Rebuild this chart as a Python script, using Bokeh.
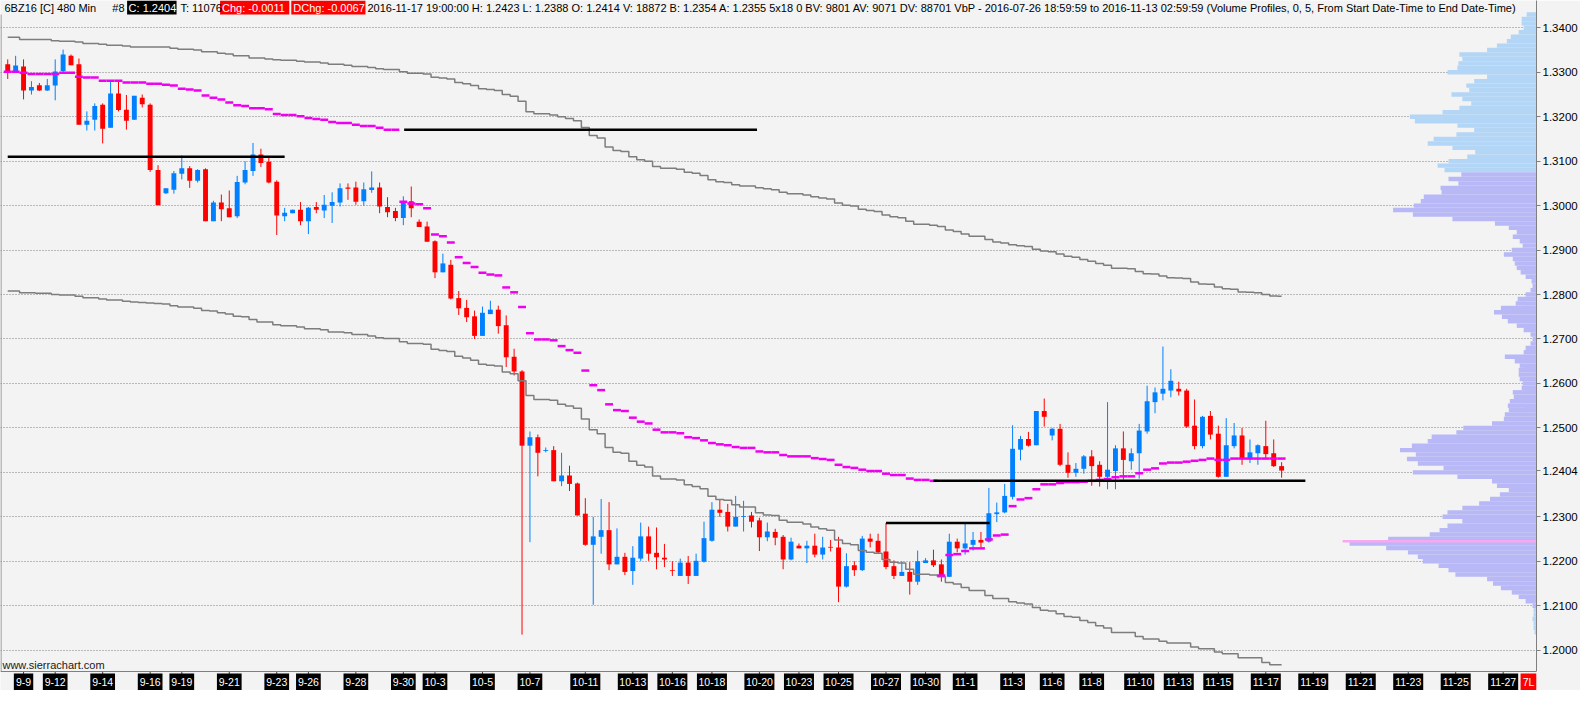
from bokeh.plotting import figure
from bokeh.models import Range1d, FixedTicker, NumeralTickFormatter, ColumnDataSource, Span
from bokeh.core.properties import value
from bokeh.embed import file_html
from bokeh.resources import INLINE

# ---------------- data ----------------
opens = [1.3318, 1.3301, 1.3313, 1.3259, 1.3271, 1.3259, 1.3270, 1.3303, 1.3337, 1.3318,
         1.3182, 1.3193, 1.3227, 1.3175, 1.3252, 1.3216, 1.3193, 1.3243, 1.3227, 1.3080,
         1.3028, 1.3036, 1.3072, 1.3084, 1.3056, 1.3082, 1.2965, 1.3007, 1.2994, 1.2976,
         1.3052, 1.3078, 1.3115, 1.3099, 1.3054, 1.2976, 1.2983, 1.2991, 1.2965, 1.2997,
         1.2989, 1.3000, 1.3007, 1.3041, 1.3041, 1.3010, 1.3035, 1.3041, 1.2997, 1.2988,
         1.2972, 1.3010, 1.2964, 1.2953, 1.2920, 1.2850, 1.2867, 1.2792, 1.2770, 1.2751,
         1.2707, 1.2756, 1.2766, 1.2731, 1.2660, 1.2627, 1.2460, 1.2479, 1.2448, 1.2450,
         1.2380, 1.2393, 1.2375, 1.2307, 1.2237, 1.2255, 1.2270, 1.2193, 1.2210, 1.2178,
         1.2206, 1.2256, 1.2219, 1.2208, 1.2180, 1.2167, 1.2197, 1.2167, 1.2199, 1.2246,
         1.2316, 1.2311, 1.2278, 1.2300, 1.2303, 1.2292, 1.2254, 1.2266, 1.2255, 1.2204,
         1.2235, 1.2229, 1.2235, 1.2215, 1.2232, 1.2231, 1.2143, 1.2191, 1.2180, 1.2251,
         1.2246, 1.2222, 1.2189, 1.2167, 1.2176, 1.2154, 1.2196, 1.2202, 1.2193, 1.2165,
         1.2244, 1.2229, 1.2237, 1.2248, 1.2244, 1.2306, 1.2310, 1.2345, 1.2451, 1.2475,
         1.2461, 1.2538, 1.2483, 1.2498, 1.2417, 1.2399, 1.2408, 1.2436, 1.2417, 1.2390,
         1.2403, 1.2454, 1.2425, 1.2443, 1.2492, 1.2558, 1.2577, 1.2584, 1.2588, 1.2584,
         1.2505, 1.2459, 1.2527, 1.2487, 1.2390, 1.2459, 1.2483, 1.2430, 1.2443, 1.2459,
         1.2443, 1.2414]
highs = [1.3329, 1.3337, 1.3329, 1.3280, 1.3276, 1.3285, 1.3329, 1.3351, 1.3340, 1.3331,
         1.3212, 1.3230, 1.3230, 1.3279, 1.3279, 1.3249, 1.3247, 1.3250, 1.3230, 1.3091,
         1.3039, 1.3078, 1.3113, 1.3089, 1.3082, 1.3084, 1.3011, 1.3025, 1.3034, 1.3067,
         1.3100, 1.3141, 1.3128, 1.3108, 1.3057, 1.2995, 1.2991, 1.3008, 1.2997, 1.3008,
         1.3024, 1.3030, 1.3050, 1.3050, 1.3054, 1.3052, 1.3077, 1.3052, 1.3019, 1.2995,
         1.3021, 1.3043, 1.2969, 1.2964, 1.2922, 1.2892, 1.2878, 1.2808, 1.2788, 1.2764,
         1.2773, 1.2786, 1.2775, 1.2753, 1.2678, 1.2630, 1.2492, 1.2485, 1.2456, 1.2459,
         1.2444, 1.2415, 1.2377, 1.2342, 1.2300, 1.2340, 1.2333, 1.2274, 1.2219, 1.2234,
         1.2287, 1.2278, 1.2276, 1.2239, 1.2200, 1.2206, 1.2212, 1.2217, 1.2289, 1.2333,
         1.2340, 1.2329, 1.2347, 1.2336, 1.2311, 1.2298, 1.2287, 1.2273, 1.2259, 1.2253,
         1.2240, 1.2246, 1.2262, 1.2255, 1.2248, 1.2255, 1.2218, 1.2200, 1.2257, 1.2262,
         1.2262, 1.2286, 1.2202, 1.2200, 1.2198, 1.2224, 1.2207, 1.2226, 1.2204, 1.2262,
         1.2251, 1.2288, 1.2266, 1.2266, 1.2365, 1.2332, 1.2374, 1.2506, 1.2482, 1.2491,
         1.2538, 1.2566, 1.2500, 1.2509, 1.2445, 1.2421, 1.2439, 1.2450, 1.2425, 1.2558,
         1.2461, 1.2492, 1.2454, 1.2509, 1.2595, 1.2591, 1.2683, 1.2632, 1.2604, 1.2588,
         1.2564, 1.2527, 1.2538, 1.2505, 1.2522, 1.2511, 1.2500, 1.2474, 1.2463, 1.2516,
         1.2474, 1.2423]
lows = [1.3285, 1.3300, 1.3239, 1.3250, 1.3258, 1.3258, 1.3237, 1.3299, 1.3316, 1.3182,
        1.3169, 1.3169, 1.3140, 1.3175, 1.3212, 1.3171, 1.3193, 1.3221, 1.3076, 1.3001,
        1.3026, 1.3027, 1.3059, 1.3040, 1.3052, 1.2965, 1.2965, 1.2965, 1.2974, 1.2972,
        1.3048, 1.3067, 1.3087, 1.3050, 1.2934, 1.2965, 1.2983, 1.2956, 1.2936, 1.2983,
        1.2972, 1.2961, 1.2998, 1.3013, 1.3002, 1.3000, 1.3029, 1.2983, 1.2974, 1.2965,
        1.2956, 1.2974, 1.2952, 1.2919, 1.2837, 1.2850, 1.2789, 1.2754, 1.2738, 1.2700,
        1.2707, 1.2756, 1.2712, 1.2637, 1.2618, 1.2035, 1.2243, 1.2391, 1.2445, 1.2380,
        1.2369, 1.2358, 1.2303, 1.2235, 1.2102, 1.2217, 1.2180, 1.2193, 1.2169, 1.2147,
        1.2201, 1.2201, 1.2182, 1.2187, 1.2167, 1.2167, 1.2149, 1.2167, 1.2197, 1.2244,
        1.2300, 1.2267, 1.2278, 1.2267, 1.2276, 1.2223, 1.2245, 1.2236, 1.2182, 1.2202,
        1.2229, 1.2196, 1.2209, 1.2204, 1.2222, 1.2108, 1.2141, 1.2167, 1.2178, 1.2231,
        1.2218, 1.2182, 1.2160, 1.2167, 1.2125, 1.2147, 1.2196, 1.2187, 1.2154, 1.2165,
        1.2220, 1.2215, 1.2224, 1.2231, 1.2242, 1.2288, 1.2308, 1.2339, 1.2427, 1.2458,
        1.2461, 1.2503, 1.2472, 1.2414, 1.2388, 1.2390, 1.2397, 1.2370, 1.2368, 1.2362,
        1.2362, 1.2384, 1.2406, 1.2386, 1.2487, 1.2533, 1.2562, 1.2569, 1.2573, 1.2500,
        1.2452, 1.2454, 1.2474, 1.2388, 1.2390, 1.2454, 1.2417, 1.2421, 1.2417, 1.2432,
        1.2412, 1.2388]
closes = [1.3301, 1.3315, 1.3259, 1.3267, 1.3259, 1.3271, 1.3302, 1.3340, 1.3316, 1.3182,
          1.3191, 1.3224, 1.3173, 1.3252, 1.3215, 1.3191, 1.3247, 1.3228, 1.3080, 1.3001,
          1.3039, 1.3073, 1.3084, 1.3056, 1.3080, 1.2965, 1.3007, 1.2992, 1.2974, 1.3053,
          1.3080, 1.3115, 1.3096, 1.3052, 1.2978, 1.2984, 1.2991, 1.2965, 1.2995, 1.2991,
          1.3002, 1.3008, 1.3039, 1.3038, 1.3009, 1.3037, 1.3041, 1.2998, 1.2985, 1.2972,
          1.3010, 1.2994, 1.2952, 1.2919, 1.2850, 1.2870, 1.2791, 1.2769, 1.2749, 1.2707,
          1.2759, 1.2766, 1.2729, 1.2659, 1.2627, 1.2460, 1.2479, 1.2444, 1.2450, 1.2380,
          1.2393, 1.2374, 1.2303, 1.2237, 1.2256, 1.2270, 1.2193, 1.2210, 1.2176, 1.2208,
          1.2256, 1.2217, 1.2209, 1.2204, 1.2179, 1.2197, 1.2167, 1.2201, 1.2252, 1.2316,
          1.2309, 1.2278, 1.2300, 1.2301, 1.2289, 1.2254, 1.2267, 1.2253, 1.2204, 1.2244,
          1.2229, 1.2235, 1.2215, 1.2231, 1.2231, 1.2143, 1.2189, 1.2180, 1.2251, 1.2244,
          1.2220, 1.2187, 1.2167, 1.2176, 1.2154, 1.2200, 1.2202, 1.2191, 1.2167, 1.2244,
          1.2229, 1.2240, 1.2248, 1.2242, 1.2308, 1.2310, 1.2347, 1.2453, 1.2475, 1.2460,
          1.2538, 1.2525, 1.2498, 1.2417, 1.2399, 1.2408, 1.2436, 1.2414, 1.2390, 1.2406,
          1.2454, 1.2428, 1.2443, 1.2494, 1.2560, 1.2580, 1.2588, 1.2606, 1.2582, 1.2503,
          1.2459, 1.2525, 1.2485, 1.2390, 1.2461, 1.2483, 1.2430, 1.2445, 1.2461, 1.2441,
          1.2414, 1.2404]

vwap = [1.3301, 1.3301, 1.3299, 1.3296, 1.3296, 1.3296, 1.3296, 1.3299, 1.3299, 1.3290,
        1.3288, 1.3288, 1.3281, 1.3281, 1.3281, 1.3277, 1.3277, 1.3277, 1.3274, 1.3274,
        1.3272, 1.3270, 1.3263, 1.3261, 1.3259, 1.3248, 1.3243, 1.3239, 1.3232, 1.3226,
        1.3224, 1.3219, 1.3219, 1.3217, 1.3206, 1.3204, 1.3204, 1.3201, 1.3197, 1.3195,
        1.3193, 1.3188, 1.3186, 1.3186, 1.3182, 1.3179, 1.3179, 1.3175, 1.3171, 1.3171,
        1.3009, 1.3005, 1.3003, 1.2994, 1.2935, 1.2931, 1.2917, 1.2884, 1.2871, 1.2862,
        1.2849, 1.2845, 1.2843, 1.2816, 1.2805, 1.2772, 1.2713, 1.2699, 1.2699, 1.2697,
        1.2684, 1.2675, 1.2669, 1.2629, 1.2596, 1.2585, 1.2553, 1.2540, 1.2538, 1.2523,
        1.2514, 1.2510, 1.2496, 1.2490, 1.2490, 1.2488, 1.2479, 1.2477, 1.2472, 1.2466,
        1.2463, 1.2461, 1.2457, 1.2455, 1.2455, 1.2447, 1.2445, 1.2445, 1.2439, 1.2436,
        1.2436, 1.2436, 1.2432, 1.2430, 1.2428, 1.2417, 1.2412, 1.2410, 1.2406, 1.2403,
        1.2403, 1.2397, 1.2394, 1.2394, 1.2386, 1.2383, 1.2383, 1.2381, 1.2168, 1.2214,
        1.2216, 1.2223, 1.2229, 1.2229, 1.2249, 1.2258, 1.2260, 1.2324, 1.2339, 1.2342,
        1.2362, 1.2373, 1.2373, 1.2376, 1.2378, 1.2378, 1.2379, 1.2381, 1.2383, 1.2385,
        1.2389, 1.2391, 1.2391, 1.2398, 1.2406, 1.2409, 1.2420, 1.2422, 1.2422, 1.2424,
        1.2426, 1.2428, 1.2431, 1.2428, 1.2428, 1.2431, 1.2431, 1.2431, 1.2431, 1.2431,
        1.2431, 1.2431]

band_upper = [1.3379, 1.3379, 1.3374, 1.3374, 1.3374, 1.3374, 1.3371, 1.3370, 1.3370, 1.3368,
              1.3365, 1.3365, 1.3363, 1.3361, 1.3361, 1.3359, 1.3357, 1.3357, 1.3357, 1.3357,
              1.3357, 1.3354, 1.3352, 1.3352, 1.3350, 1.3346, 1.3346, 1.3343, 1.3341, 1.3337,
              1.3337, 1.3332, 1.3332, 1.3330, 1.3328, 1.3327, 1.3327, 1.3325, 1.3323, 1.3323,
              1.3321, 1.3318, 1.3318, 1.3316, 1.3313, 1.3313, 1.3311, 1.3308, 1.3306, 1.3306,
              1.3301, 1.3298, 1.3298, 1.3296, 1.3289, 1.3287, 1.3285, 1.3277, 1.3274, 1.3270,
              1.3263, 1.3261, 1.3259, 1.3250, 1.3246, 1.3235, 1.3211, 1.3207, 1.3207, 1.3204,
              1.3200, 1.3196, 1.3191, 1.3176, 1.3158, 1.3152, 1.3132, 1.3124, 1.3122, 1.3110,
              1.3103, 1.3100, 1.3088, 1.3084, 1.3084, 1.3082, 1.3075, 1.3073, 1.3068, 1.3058,
              1.3054, 1.3052, 1.3047, 1.3044, 1.3044, 1.3040, 1.3038, 1.3036, 1.3030, 1.3027,
              1.3027, 1.3024, 1.3020, 1.3017, 1.3015, 1.3006, 1.3001, 1.2999, 1.2992, 1.2989,
              1.2987, 1.2979, 1.2975, 1.2973, 1.2965, 1.2958, 1.2958, 1.2956, 1.2953, 1.2945,
              1.2942, 1.2936, 1.2931, 1.2931, 1.2924, 1.2918, 1.2916, 1.2912, 1.2910, 1.2908,
              1.2902, 1.2898, 1.2896, 1.2891, 1.2886, 1.2884, 1.2879, 1.2875, 1.2870, 1.2866,
              1.2859, 1.2859, 1.2858, 1.2852, 1.2847, 1.2846, 1.2842, 1.2838, 1.2837, 1.2836,
              1.2828, 1.2824, 1.2823, 1.2817, 1.2813, 1.2812, 1.2806, 1.2805, 1.2804, 1.2800,
              1.2797, 1.2796]
band_lower = [1.2808, 1.2808, 1.2804, 1.2804, 1.2803, 1.2803, 1.2800, 1.2799, 1.2799, 1.2796,
              1.2793, 1.2793, 1.2790, 1.2788, 1.2788, 1.2785, 1.2783, 1.2782, 1.2781, 1.2780,
              1.2779, 1.2775, 1.2772, 1.2772, 1.2769, 1.2764, 1.2763, 1.2759, 1.2756, 1.2751,
              1.2750, 1.2744, 1.2738, 1.2738, 1.2732, 1.2730, 1.2730, 1.2727, 1.2723, 1.2723,
              1.2721, 1.2716, 1.2716, 1.2714, 1.2710, 1.2710, 1.2707, 1.2703, 1.2701, 1.2701,
              1.2694, 1.2690, 1.2690, 1.2688, 1.2677, 1.2674, 1.2672, 1.2661, 1.2657, 1.2652,
              1.2643, 1.2641, 1.2639, 1.2626, 1.2622, 1.2606, 1.2573, 1.2564, 1.2564, 1.2562,
              1.2553, 1.2549, 1.2544, 1.2520, 1.2496, 1.2487, 1.2456, 1.2445, 1.2443, 1.2425,
              1.2416, 1.2412, 1.2392, 1.2385, 1.2385, 1.2383, 1.2372, 1.2368, 1.2363, 1.2346,
              1.2339, 1.2337, 1.2327, 1.2322, 1.2322, 1.2309, 1.2304, 1.2303, 1.2292, 1.2288,
              1.2288, 1.2284, 1.2277, 1.2273, 1.2270, 1.2248, 1.2240, 1.2237, 1.2224, 1.2220,
              1.2218, 1.2204, 1.2198, 1.2196, 1.2182, 1.2171, 1.2171, 1.2169, 1.2165, 1.2152,
              1.2149, 1.2141, 1.2134, 1.2134, 1.2123, 1.2116, 1.2116, 1.2109, 1.2106, 1.2104,
              1.2096, 1.2090, 1.2088, 1.2082, 1.2076, 1.2074, 1.2067, 1.2062, 1.2055, 1.2050,
              1.2040, 1.2040, 1.2040, 1.2031, 1.2025, 1.2025, 1.2020, 1.2016, 1.2016, 1.2016,
              1.2007, 1.2003, 1.2003, 1.1996, 1.1992, 1.1992, 1.1983, 1.1983, 1.1983, 1.1972,
              1.1967, 1.1967]

# horizontal level lines (price, first bar, last bar)
level_price = [1.3110, 1.3171, 1.2286, 1.2381]
level_from = [0.0, 50.1, 111.0, 117.0]
level_to = [35.0, 94.7, 124.1, 164.0]

# volume profile: rows from vp_top downwards, step vp_step; widths in px of the reference
vp_top = 1.343
vp_step = 0.001
vp_vol = [10, 15, 15, 13, 18, 26, 30, 40, 50, 78, 75, 79, 80, 90, 50, 63, 71, 68, 86, 75,
          66, 78, 95, 128, 123, 80, 63, 81, 104, 110, 85, 62, 70, 89, 100, 93,
          76, 89, 79, 97, 96, 114, 117, 124, 145, 125, 85, 42, 28, 20, 24, 17, 14, 25, 33, 24,
          22, 20, 16, 11, 5, 4, 6, 11, 19, 21, 36, 43, 35, 29,
          20, 13, 6, 4, 6, 11, 13, 32, 22, 17, 18, 18, 17, 14, 15, 24, 23, 27, 29, 28,
          32, 33, 45, 74, 81, 106, 110, 126, 138, 122, 131, 120, 94, 125, 80, 45, 40, 28, 37, 47,
          58, 75, 90, 95, 75, 90, 98, 108, 150, 189, 152, 130, 120, 115, 99, 89, 82, 50, 44, 36,
          25, 18, 11, 4,
          3, 3, 4, 3, 3, 2]
va_high = 1.3078
va_low = 1.2100
poc_price = 1.2245
poc_vol = 196

date_labels = ["9-9", "9-12", "9-14", "9-16", "9-19", "9-21", "9-23", "9-26", "9-28", "9-30",
               "10-3", "10-5", "10-7", "10-11", "10-13", "10-16", "10-18", "10-20", "10-23", "10-25",
               "10-27", "10-30", "11-1", "11-3", "11-6", "11-8", "11-10", "11-13", "11-15", "11-17",
               "11-19", "11-21", "11-23", "11-25", "11-27"]
date_bars = [2, 6, 12, 18, 22, 28, 34, 38, 44, 50, 54, 60, 66, 73, 79, 84, 89, 95, 100, 105,
             111, 116, 121, 127, 132, 137, 143, 148, 153, 159, 165, 171, 177, 183, 189]

grid_prices = [1.20, 1.21, 1.22, 1.23, 1.24, 1.25, 1.26, 1.27, 1.28, 1.29,
               1.30, 1.31, 1.32, 1.33, 1.34]
last_price = 1.2404
axis_prices = [1.20, 1.21, 1.22, 1.23, last_price, 1.25, 1.26, 1.27, 1.28, 1.29,
               1.30, 1.31, 1.32, 1.33, 1.34]

# ---------------- layout ----------------
W, H = 1580, 690
HDR, XLB = 14, 19
P_TOP, P_BOT = 1.3430, 1.1952
ppu = (H - HDR - XLB) / (P_TOP - P_BOT)
Y0 = P_BOT - XLB / ppu
Y1 = P_TOP + HDR / ppu
REF_W = 1553.0
BAR0, BARW = 7.3, 8.0
BG = "#f3f3f3"
FONT = "Liberation Sans"

p = figure(width=W, height=H, x_range=Range1d(-BAR0 / BARW, (REF_W - BAR0) / BARW),
           y_range=Range1d(Y0, Y1), output_backend="svg", toolbar_location=None,
           y_axis_location="right", x_axis_location=None, min_border=0,
           background_fill_color=BG, border_fill_color=BG, outline_line_color=None)
p.extra_x_ranges = {"px": Range1d(0, REF_W)}

p.yaxis.ticker = FixedTicker(ticks=axis_prices)
p.yaxis.formatter = NumeralTickFormatter(format="0.0000")
p.yaxis.major_label_text_font = FONT
p.yaxis.major_label_text_font_size = "11.5px"
p.yaxis.major_label_text_color = "black"
p.yaxis.axis_line_color = "#7f7f7f"
p.yaxis.major_tick_line_color = "#7f7f7f"
p.yaxis.major_tick_out = 4
p.yaxis.major_tick_in = 0
p.yaxis.minor_tick_line_color = None
p.yaxis.major_label_standoff = 2
p.yaxis.bounds = (P_BOT, Y1)
p.ygrid.ticker = FixedTicker(ticks=grid_prices)
p.ygrid.grid_line_color = "#7f7f7f"
p.ygrid.grid_line_dash = "1 2"
p.xgrid.visible = False

# volume profile
vp_prices = [round(vp_top - vp_step * k, 4) for k in range(len(vp_vol))]
vp_colors = ["#b4d6f6" if (pr > va_high or pr < va_low) else "#b8b8f7" for pr in vp_prices]
p.hbar(y=vp_prices, left=[REF_W - v for v in vp_vol], right=REF_W, height=vp_step,
       fill_color=vp_colors, line_color=None, x_range_name="px")
p.hbar(y=[poc_price], left=[REF_W - poc_vol], right=REF_W, height=0.0006,
       fill_color="#f7a8ef", line_color=None, x_range_name="px")

# candles
bars = list(range(len(opens)))
MINB = 0.00018
tops, bots, cols = [], [], []
for o, c in zip(opens, closes):
    t, b = max(o, c), min(o, c)
    if t - b < MINB:
        m = (t + b) / 2
        t, b = m + MINB / 2, m - MINB / 2
    tops.append(t)
    bots.append(b)
    cols.append("#0080ff" if c > o else "#ff0000")
src = ColumnDataSource(dict(x=bars, top=tops, bottom=bots, high=highs, low=lows, color=cols))
p.segment(x0="x", y0="low", x1="x", y1="high", line_color="color", line_width=1, source=src)
p.vbar(x="x", top="top", bottom="bottom", width=0.62, fill_color="color", line_color=None, source=src)

# channel lines
p.step(x=bars, y=band_upper, mode="center", line_color="#7d7d7d", line_width=1.5)
p.step(x=bars, y=band_lower, mode="center", line_color="#7d7d7d", line_width=1.5)

# vwap dashes
p.segment(x0=[b - 0.5 for b in bars], x1=[b + 0.5 for b in bars], y0=vwap, y1=vwap,
          line_color="#f000f0", line_width=2.5)

# level lines
p.segment(x0=level_from, x1=level_to, y0=level_price, y1=level_price,
          line_color="black", line_width=2.5)

# frame lines
p.add_layout(Span(location=P_BOT, dimension="width", line_color="#7f7f7f", line_width=1))
p.segment(x0=[0.5], x1=[0.5], y0=[P_BOT], y1=[P_TOP], line_color="#7f7f7f",
          line_width=1, x_range_name="px")

# header
hy = P_TOP + HDR / 2 / ppu
p.quad(left=[128, 222, 294], right=[178, 292, 369], bottom=P_TOP, top=Y1,
       fill_color=["black", "#ff0000", "#ff0000"], line_color=None, x_range_name="px")
hdr_x = [4, 113, 129.5, 182, 224, 296]
hdr_txt = ["6BZ16 [C]  480 Min", "#8", "C: 1.2404", "T: 11076", "Chg: -0.0011", "DChg: -0.0067"]
hdr_col = ["black", "black", "white", "black", "white", "white"]
p.text(x=hdr_x, y=[hy] * len(hdr_x), text=hdr_txt, text_color=hdr_col, x_range_name="px",
       text_font=value(FONT), text_font_size="11px", text_baseline="middle", text_align="left")
p.text(x=[371], y=[hy],
       text=["2016-11-17 19:00:00 H: 1.2423 L: 1.2388 O: 1.2414 V: 18872 B: 1.2354 A: 1.2355 5x18 0 "
             "BV: 9801 AV: 9071 DV: 88701  VbP - 2016-07-26  18:59:59 to 2016-11-13  02:59:59   "
             "(Volume Profiles, 0, 5, From Start Date-Time to End Date-Time)"],
       x_range_name="px", text_font=value(FONT), text_font_size="11px", text_color="black",
       text_baseline="middle", text_align="left")

# watermark
p.text(x=[2], y=[1.1967], text=["www.sierrachart.com"], x_range_name="px",
       text_font=value(FONT), text_font_size="11px", text_color="#202020",
       text_baseline="middle", text_align="left")

# date labels (black boxes) below the axis line
ly = P_BOT - 10.5 / ppu
p.segment(x0=date_bars, x1=date_bars, y0=P_BOT, y1=P_BOT - 2.5 / ppu, line_color="#404040")
p.rect(x=date_bars, y=ly, width=[5.3 * len(t) + 3.5 for t in date_labels], height=17,
       width_units="screen", height_units="screen", fill_color="black", line_color=None)
p.text(x=date_bars, y=ly, text=date_labels, text_color="white", text_font=value(FONT),
       text_font_size="10.5px", text_baseline="middle", text_align="center")

# small red status box at the right end of the date strip
p.rect(x=[REF_W - 8], y=[ly], width=16, height=17, width_units="screen", height_units="screen",
       fill_color="#ff0000", line_color=None, x_range_name="px")
p.text(x=[REF_W - 8], y=[ly], text=["7L"], text_color="white", text_font=value(FONT),
       text_font_size="10.5px", text_baseline="middle", text_align="center", x_range_name="px")

open("out.html", "w").write(file_html(p, INLINE, title="6BZ16 480 Min"))
